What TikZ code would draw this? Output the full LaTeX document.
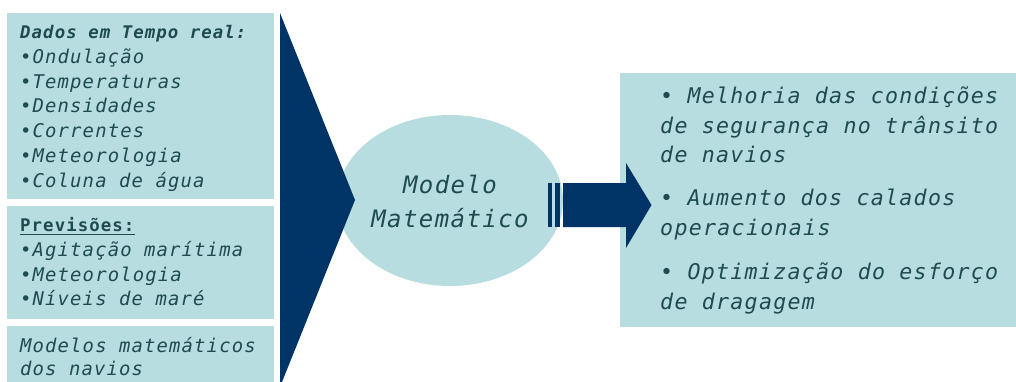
\documentclass[tikz,border=0pt]{standalone}
\usepackage{fontspec}
\usetikzlibrary{shapes.geometric}
\newfontfamily\monoLS{DejaVu Sans Mono}[LetterSpace=6]
\definecolor{boxfill}{HTML}{B7DDE0}
\definecolor{navy}{HTML}{003366}
\definecolor{txtc}{HTML}{1E4B50}
\newcommand{\hdfont}{\monoLS\fontsize{17.4}{19}\selectfont\bfseries\itshape}
\newcommand{\phfont}{\monoLS\fontsize{17.4}{19}\selectfont\bfseries}
\newcommand{\itfont}{\monoLS\fontsize{18.9}{21}\selectfont\itshape}
\newcommand{\rtfont}{\monoLS\fontsize{21.6}{24}\selectfont\itshape}
\newcommand{\mdfont}{\monoLS\fontsize{24}{26}\selectfont\itshape}
\begin{document}
\begin{tikzpicture}[x=1pt,y=-1pt,
  panel/.style={fill=boxfill,draw=none},
  dark/.style={fill=navy,draw=none},
  txt/.style={inner sep=0pt,anchor=base west,text=txtc}]
\useasboundingbox (0,0) rectangle (1016,381);
% left boxes
\path[panel] (7,13) rectangle (274,199);
\path[panel] (7,206) rectangle (274,319);
\path[panel] (7,326) rectangle (274,386);
% right box
\path[panel] (620,73) rectangle (1016,327);
% ellipse
\node[panel,ellipse,minimum width=226pt,minimum height=171pt,inner sep=0pt] (model) at (450,200.5) {};
% funnel
\path[dark] (280,13) -- (355,200) -- (280,387) -- cycle;
% arrow
\node[dark,inner sep=0pt,minimum width=4pt,minimum height=44pt] (bar1) at (549.5,205) {};
\node[dark,inner sep=0pt,minimum width=5.5pt,minimum height=44pt] (bar2) at (557.5,205) {};
\path[dark] (563,183) -- (626,183) -- (626,163) -- (651.5,205) -- (626,248) -- (626,227) -- (563,227) -- cycle;
% middle text
\node[txt,anchor=base,font=\mdfont] (m1) at (450,193) {Modelo};
\node[txt,anchor=base,font=\mdfont] (m2) at (450,227) {Matemático};
% box 1
\node[txt,font=\hdfont] (h1) at (20,38) {Dados em Tempo real:};
\node[txt,font=\itfont] (a1) at (20,63) {•Ondulação};
\node[txt,font=\itfont] (a2) at (20,88) {•Temperaturas};
\node[txt,font=\itfont] (a3) at (20,112.5) {•Densidades};
\node[txt,font=\itfont] (a4) at (20,137) {•Correntes};
\node[txt,font=\itfont] (a5) at (20,162) {•Meteorologia};
\node[txt,font=\itfont] (a6) at (20,187) {•Coluna de água};
% box 2
\node[txt,font=\phfont] (h2) at (20,231) {Previsões:};
\draw[txtc,line width=1pt] (20,234.5) -- (135,234.5);
\node[txt,font=\itfont] (b1) at (20,256) {•Agitação marítima};
\node[txt,font=\itfont] (b2) at (20,281) {•Meteorologia};
\node[txt,font=\itfont] (b3) at (20,305) {•Níveis de maré};
% box 3
\node[txt,font=\itfont] (c1) at (20,352) {Modelos matemáticos};
\node[txt,font=\itfont] (c2) at (20,375) {dos navios};
% right text
\node[txt,font=\rtfont] (r1) at (660,103) {{\upshape•} Melhoria das condições};
\node[txt,font=\rtfont] (r2) at (660,133) {de segurança no trânsito};
\node[txt,font=\rtfont] (r3) at (660,162) {de navios};
\node[txt,font=\rtfont] (r4) at (660,205) {{\upshape•} Aumento dos calados};
\node[txt,font=\rtfont] (r5) at (660,235) {operacionais};
\node[txt,font=\rtfont] (r6) at (660,279) {{\upshape•} Optimização do esforço};
\node[txt,font=\rtfont] (r7) at (660,309) {de dragagem};
\end{tikzpicture}
\end{document}
